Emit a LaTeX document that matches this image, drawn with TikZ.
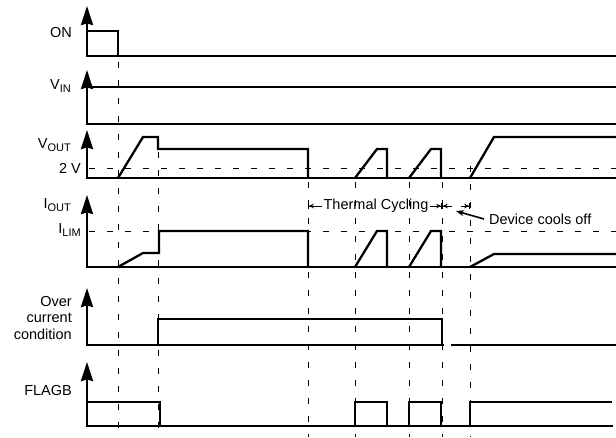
\documentclass[tikz,border=0pt]{standalone}
\usepackage{fontspec}
\setmainfont{Liberation Sans}
\usetikzlibrary{arrows.meta}
\newcommand{\subtxt}[1]{\raisebox{-3.5pt}{\fontsize{11}{12}\selectfont #1}}

\begin{document}
\begin{tikzpicture}[x=1pt, y=-1pt, font=\fontsize{14.5}{16.5}\selectfont, axis/.style={line width=2.3pt, -{Stealth[length=19pt, width=12pt, inset=1.5pt]}}, sig/.style={line width=2.3pt, line join=miter}, guide/.style={line width=1pt, dash pattern=on 6pt off 12pt}, dim/.style={line width=0.8pt, -{Stealth[length=5pt, width=4.5pt]Bar[width=6pt]}}, pointer/.style={line width=1.6pt, -{Stealth[length=8pt, width=6pt]}}, lab/.style={anchor=base east, inner sep=0pt}]
\useasboundingbox (0,0) rectangle (616,437);
% timing guides and reference levels
\draw[guide] (118,62) -- (118,437);
\draw[guide] (158,152) -- (158,437);
\foreach \x in {308, 355, 409, 442} {\draw[guide] (\x,182) -- (\x,437);}
\draw[guide] (470,166) -- (470,437);
\draw[guide] (89,168) -- (616,168);
\draw[guide] (89,231) -- (616,231);
% axes
\foreach \top/\bot in {6/56, 70/124, 130/178, 195/267, 288/345, 362/426} {\draw[axis] (87,\bot) -- (87,\top); \draw[sig] (86,\bot) -- (616,\bot);}
% labels
\node[lab] (on) at (72,37) {ON};
\node[lab] (vin) at (71,89) {V\subtxt{IN}};
\node[lab] (vout) at (71,148) {V\subtxt{OUT}};
\node[lab] (twov) at (81,173) {2 V};
\node[lab] (iout) at (71,208) {I\subtxt{OUT}};
\node[lab] (ilim) at (81,233) {I\subtxt{LIM}};
\node[anchor=east, align=right, inner sep=0pt] (ovc) at (72,318) {Over\\current\\condition};
\node[lab] (flagb) at (72,395) {FLAGB};
% ON and VIN
\draw[sig] (87,31) -- (118,31) -- (118,56);
\draw[sig] (87,87) -- (616,87);
% VOUT
\draw[sig] (118,178) -- (143,137) -- (158,137) -- (158,149) -- (308,149) -- (308,178);
\foreach \x in {355, 409} {\draw[sig] (\x,178) -- (\x+22,149) -- (\x+32,149) -- (\x+32,178);}
\draw[sig] (470,178) -- (494,137) -- (616,137);
% IOUT
\draw[sig] (118,267) -- (143,253) -- (159,253) -- (159,231) -- (308,231) -- (308,267);
\foreach \x in {355, 409} {\draw[sig] (\x,267) -- (\x+22,231) -- (\x+32,231) -- (\x+32,267);}
\draw[sig] (470,267) -- (494,254) -- (616,254);
% over current condition
\draw[sig] (158,345) -- (158,319) -- (442,319) -- (442,345);
\draw[white, line width=3pt] (443.5,345) -- (451,345);
% FLAGB
\draw[sig] (87,402) -- (160,402) -- (160,426);
\foreach \x in {355, 409} {\draw[sig] (\x,426) -- (\x,402) -- (\x+32,402) -- (\x+32,426);}
\draw[sig] (470,426) -- (470,402) -- (612,402);
\draw[white, line width=3pt] (613,402) -- (616,402) (613,426) -- (616,426);
% thermal cycling and cool off
\node[inner sep=1pt] (tc) at (376,206) {Thermal Cycling};
\coordinate (tcl) at (308,206);
\coordinate (tcr) at (442,206);
\draw[dim] (tc) -- (tcl);
\draw[dim] (tc) -- (tcr);
\coordinate (cfa) at (452,206);
\coordinate (cfb) at (461,206);
\coordinate (cfr) at (470,206);
\draw[dim] (cfa) -- (tcr);
\draw[dim] (cfb) -- (cfr);
\node[anchor=west, inner sep=0pt] (cool) at (489,219) {Device cools off};
\coordinate (coolpt) at (456,211);
\draw[pointer] ([xshift=-5pt]cool.west) -- (coolpt);
\end{tikzpicture}
\end{document}
